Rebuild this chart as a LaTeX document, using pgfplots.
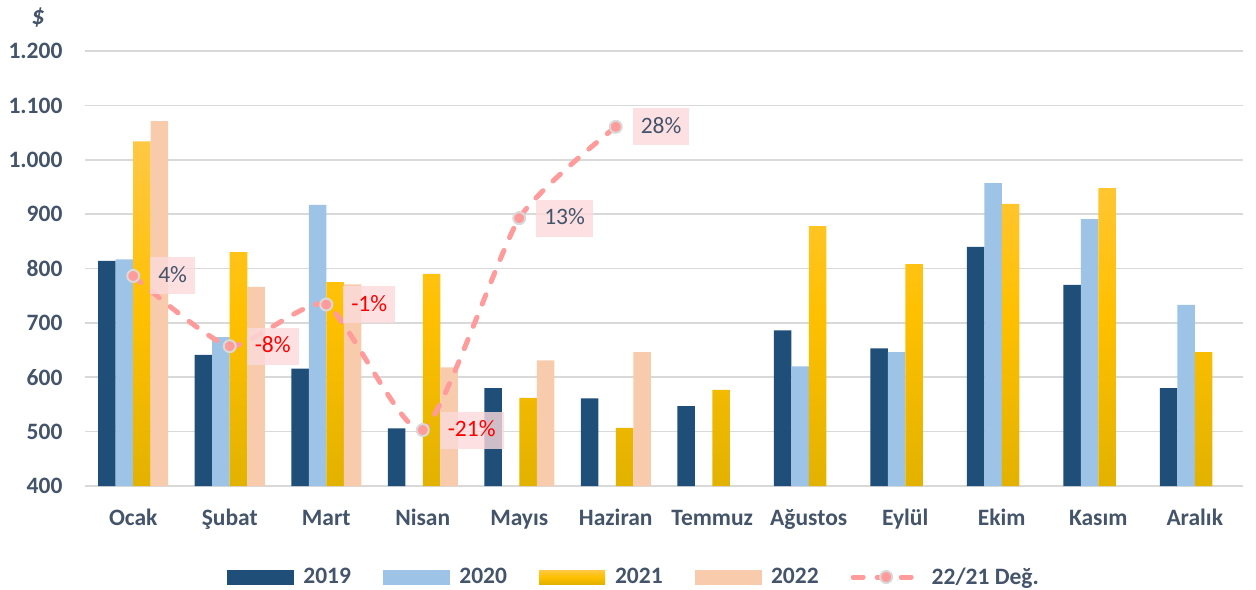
\documentclass[border=0pt]{standalone}
\usepackage{pgfplots}
\pgfplotsset{compat=1.18}
\usepackage{fontspec}
\setmainfont{Carlito}
\definecolor{c19}{HTML}{1F4E79}
\definecolor{c20}{HTML}{9DC3E6}
\definecolor{c21}{HTML}{FFC000}
\definecolor{c21top}{HTML}{FFC844}
\definecolor{c21bot}{HTML}{E2B200}
\definecolor{c22}{HTML}{F8CBAD}
\definecolor{lineC}{HTML}{FF9B9B}
\definecolor{txt}{HTML}{44546A}
\definecolor{lblbg}{HTML}{FCDADB}
\definecolor{gridc}{HTML}{D9D9D9}
\definecolor{negred}{HTML}{FF0000}
\pgfplotsset{linelegend/.style={legend image code/.code={\draw[##1, mark repeat=2, mark phase=2] plot coordinates {(0bp,0bp) (33bp,0bp) (66bp,0bp)};}}}
\begin{document}
\begin{tikzpicture}
\path[use as bounding box] (-85bp,-104bp) rectangle (1171bp,486bp);
\begin{axis}[
  at={(0,0)}, anchor=south west,
  scale only axis, width=1158bp, height=435bp,
  xmin=-0.5, xmax=11.5,
  ymin=400, ymax=1200,
  y coord trafo/.code={\pgfmathparse{#1-400}},
  y coord inv trafo/.code={\pgfmathparse{#1+400}},
  ytick={400,500,600,700,800,900,1000,1100,1200},
  xtick={0,...,11},
  xticklabels={Ocak,Şubat,Mart,Nisan,Mayıs,Haziran,Temmuz,Ağustos,Eylül,Ekim,Kasım,Aralık},
  ymajorgrids, grid style={draw=gridc, line width=1.6bp},
  axis line style={draw=none},
  major tick length=0pt,
  /pgf/number format/assume math mode=true,
  /pgf/number format/1000 sep={.},
  tick label style={font=\fontsize{23.5bp}{27bp}\selectfont\bfseries, text=txt},
  yticklabel style={xshift=-19bp},
  xticklabel style={anchor=base, yshift=-39bp},
  ybar, bar width=17.5bp,
]
\addplot[fill=c19, draw=none, bar shift=-26.25bp] coordinates {
  (0,814) (1,641) (2,616) (3,506) (4,580) (5,561) (6,547) (7,686) (8,653) (9,840) (10,770) (11,580)};
\addplot[fill=c20, draw=none, bar shift=-8.75bp] coordinates {
  (0,817) (1,674) (2,917) (7,620) (8,646) (9,957) (10,891) (11,733)};
\addplot[top color=c21top, bottom color=c21bot, middle color=c21, draw=none, bar shift=8.75bp] coordinates {
  (0,1034) (1,830) (2,775) (3,790) (4,562) (5,507) (6,577) (7,878) (8,808) (9,919) (10,948) (11,646)};
\addplot[fill=c22, draw=none, bar shift=26.25bp] coordinates {
  (0,1071) (1,766) (2,771) (3,618) (4,631) (5,646)};
\end{axis}
\begin{axis}[
  at={(0,0)}, anchor=south west,
  scale only axis, width=1158bp, height=435bp,
  xmin=-0.5, xmax=11.5, ymin=-0.3, ymax=0.4,
  hide axis, clip=false,
  legend columns=5,
  legend style={at={(axis description cs:0.474,0)}, anchor=center, yshift=-91bp,
    draw=none, fill=none, font=\fontsize{23.5bp}{27bp}\selectfont\bfseries, text=txt,
    /tikz/every odd column/.append style={column sep=8bp},
    /tikz/every even column/.append style={column sep=30bp}},
]
\addlegendimage{legend image code/.code={\fill[c19] (0bp,-7bp) rectangle (66bp,7bp);}}
\addlegendentry{2019}
\addlegendimage{legend image code/.code={\fill[c20] (0bp,-7bp) rectangle (66bp,7bp);}}
\addlegendentry{2020}
\addlegendimage{legend image code/.code={\shade[draw=none, top color=c21top, bottom color=c21bot, middle color=c21] (0bp,-7bp) rectangle (66bp,7bp);}}
\addlegendentry{2021}
\addlegendimage{legend image code/.code={\fill[c22] (0bp,-7bp) rectangle (66bp,7bp);}}
\addlegendentry{2022}
\addplot[lineC, line width=5bp, dash pattern=on 10bp off 14bp, line cap=round,
  smooth, tension=0.35,
  mark=*, mark size=6bp, mark options={solid, fill=lineC, draw=gridc, line width=2bp},
  linelegend,
  point meta=explicit symbolic,
  nodes near coords,
  nodes near coords style={anchor=west, xshift=17bp, outer sep=0pt, fill=lblbg, fill opacity=0.8, text opacity=1,
    inner xsep=8bp, inner ysep=9bp, text height=16bp, text depth=3bp,
    font=\fontsize{23.5bp}{27bp}\selectfont\mdseries, text=txt, solid},
] coordinates {
  (0,0.038) [4\%]
  (1,-0.075) [\textcolor{negred}{-8\%}]
  (2,-0.008) [\textcolor{negred}{-1\%}]
  (3,-0.21) [\textcolor{negred}{-21\%}]
  (4,0.131) [13\%]
  (5,0.278) [28\%]
};
\addlegendentry{22/21 Değ.}
\node[font=\fontsize{26bp}{29bp}\selectfont\bfseries\itshape, text=txt] at (rel axis cs:-0.0406,1.078) {\$};
\end{axis}
\end{tikzpicture}
\end{document}
